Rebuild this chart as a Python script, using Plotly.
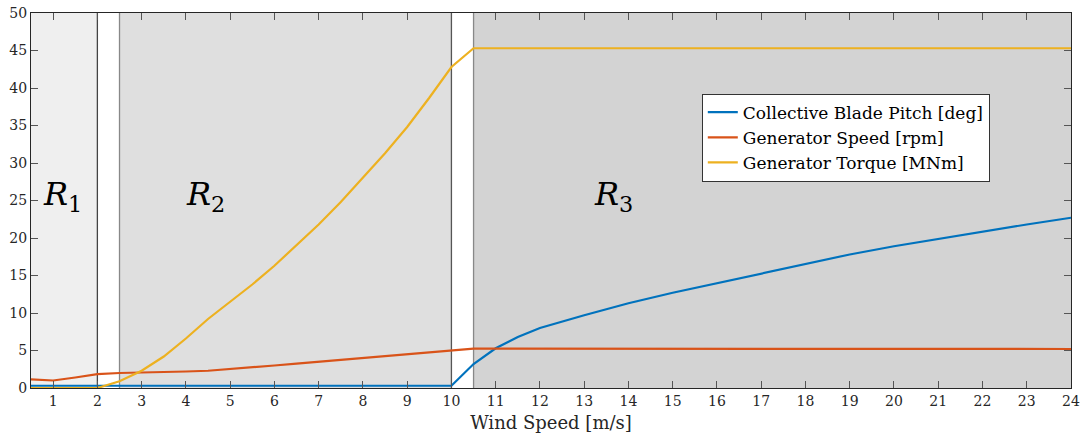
import plotly.graph_objects as go

wind = [0.5, 1, 1.5, 2, 2.5, 3, 3.5, 4, 4.5, 5, 5.5, 6, 6.5, 7, 7.5, 8, 8.5, 9, 9.5, 10,
        10.5, 11, 11.5, 12, 13, 14, 15, 16, 17, 18, 19, 20, 21, 22, 23, 24]
pitch = [0.3] * 20 + [3.2, 5.3, 6.8, 8.0, 9.7, 11.3, 12.7, 14.0, 15.3, 16.6, 17.8, 18.9, 19.9, 20.9, 21.8, 22.7]
speed = [1.15, 1.0, 1.4, 1.85, 2.0, 2.05, 2.1, 2.2, 2.3, 2.5, 2.75, 3.0, 3.25, 3.5, 3.75, 4.0, 4.25, 4.5, 4.75, 5.0,
         5.25, 5.25, 5.25, 5.25, 5.25, 5.25, 5.25, 5.25, 5.25, 5.25, 5.25, 5.25, 5.25, 5.25, 5.25, 5.2]
torque = [0, 0, 0, 0, 0.9, 2.3, 4.2, 6.6, 9.2, 11.5, 13.8, 16.3, 19.0, 21.8, 24.8, 28.0, 31.3, 34.8, 38.7, 42.8,
          45.3, 45.3, 45.3, 45.3, 45.3, 45.3, 45.3, 45.3, 45.3, 45.3, 45.3, 45.3, 45.3, 45.3, 45.3, 45.3]

series_names = ["Collective Blade Pitch [deg]", "Generator Speed [rpm]", "Generator Torque [MNm]"]
series_colors = ["#0072BD", "#D95319", "#EDB120"]

regions = [(0.5, 2, "#efefef"), (2.5, 10, "#dfdfdf"), (10.5, 24, "#d3d3d3")]
boundaries = [(2, "#444444"), (2.5, "#888888"), (10, "#555555"), (10.5, "#888888")]
region_labels = [("R", "1", 1.22), ("R", "2", 4.44), ("R", "3", 13.66)]

FONT = "DejaVu Serif"

fig = go.Figure()
for name, vals, col in zip(series_names, [pitch, speed, torque], series_colors):
    fig.add_trace(go.Scatter(x=wind, y=vals, mode="lines", name=name,
                             line=dict(color=col, width=2.2)))

shapes = []
for x0, x1, c in regions:
    shapes.append(dict(type="rect", xref="x", yref="paper", x0=x0, x1=x1, y0=0, y1=1,
                       fillcolor=c, line=dict(width=0), layer="below"))
for xv, c in boundaries:
    shapes.append(dict(type="line", xref="x", yref="paper", x0=xv, x1=xv, y0=0, y1=1,
                       line=dict(color=c, width=1.3), layer="below"))

annotations = []
for base, sub, xp in region_labels:
    annotations.append(dict(x=xp, y=25.6, xref="x", yref="y", showarrow=False,
                            text=f"<i>{base}</i><sub>{sub}</sub>",
                            font=dict(family=FONT, size=32, color="#000")))

fig.update_layout(
    width=1086, height=441,
    margin=dict(l=31, r=15, t=13, b=53, autoexpand=False),
    paper_bgcolor="white", plot_bgcolor="white",
    shapes=shapes, annotations=annotations,
    font=dict(family=FONT, color="#262626"),
    legend=dict(x=0.645, y=0.785, xanchor="left", yanchor="top",
                bgcolor="white", bordercolor="#333333", borderwidth=1,
                font=dict(family=FONT, size=17, color="#000"),
                itemwidth=30, tracegroupgap=0),
    showlegend=True,
)
fig.update_xaxes(range=[0.5, 24], tickmode="linear", tick0=1, dtick=1, automargin=False,
                 showgrid=False, zeroline=False, showline=True, linecolor="#262626", linewidth=1,
                 mirror="ticks", ticks="inside", ticklen=7, tickcolor="#555555",
                 tickfont=dict(family=FONT, size=14, color="#262626"),
                 title=dict(text="Wind Speed [m/s]", font=dict(family=FONT, size=18, color="#262626"), standoff=8))
fig.update_yaxes(range=[0, 50], tickmode="linear", tick0=0, dtick=5, automargin=False,
                 showgrid=False, zeroline=False, showline=True, linecolor="#262626", linewidth=1,
                 mirror="ticks", ticks="inside", ticklen=7, tickcolor="#555555",
                 tickfont=dict(family=FONT, size=14, color="#262626"))

fig.write_html("out.html")
